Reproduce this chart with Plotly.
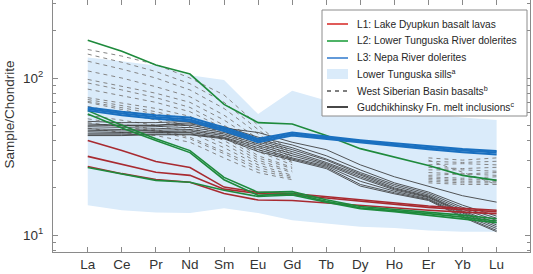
import plotly.graph_objects as go

elements = ["La", "Ce", "Pr", "Nd", "Sm", "Eu", "Gd", "Tb", "Dy", "Ho", "Er", "Yb", "Lu"]

# Lower Tunguska sills envelope
sills_upper = [135, 128, 120, 104, 97, 59, 83, 72, 66, 63, 59, 56, 54]
sills_lower = [15.5, 14.4, 13.9, 13.8, 14.8, 13.8, 12.4, 11.9, 11.3, 11.1, 10.7, 10.5, 10.5]

# L1: Lake Dyupkun basalt lavas
l1_a = [40, 34.5, 29.4, 26.9, 20.2, 18.7, 18.4, 17.6, 16.8, 16.0, 15.3, 14.8, 14.4]
l1_b = [31.7, 28.1, 25.1, 24.0, 19.6, 18.4, 18.0, 17.2, 16.4, 15.7, 15.0, 14.5, 14.1]
l1_c = [27.3, 24.6, 22.6, 21.7, 18.4, 16.7, 16.6, 16.0, 15.4, 14.9, 14.4, 14.0, 13.7]

# L2: Lower Tunguska River dolerites
l2_a = [174, 148, 121, 106, 68, 52, 51, 43, 35.5, 31.2, 27.7, 24.0, 22.3]
l2_b = [62, 50, 41, 34.5, 23.3, 18.7, 18.9, 16.8, 15.2, 14.6, 14.0, 13.4, 12.7]
l2_c = [59, 48, 40, 33.5, 22.5, 17.9, 18.4, 16.4, 14.9, 14.3, 13.7, 13.0, 12.3]
l2_d = [26.9, 24.5, 22.3, 21.7, 19.3, 17.6, 18.0, 16.2, 14.7, 14.1, 13.4, 12.6, 12.0]

# L3: Nepa River dolerites
l3_a = [65, 61, 58, 56, 48.5, 41, 45, 42.5, 40.2, 38.4, 36.8, 35.3, 34.3]
l3_b = [63.5, 59.5, 56.5, 54.5, 47.2, 40, 44, 41.7, 39.4, 37.6, 36, 34.5, 33.5]
l3_c = [62, 58, 55, 53, 46, 39, 43, 40.9, 38.6, 36.8, 35.2, 33.7, 32.6]

# West Siberian Basin basalts (no Tb, Dy, Ho data)
wsb_1 = [152, 138, 122, 100, 78, 50, 33, None, None, None, 31, 30, 31]
wsb_2 = [142, 126, 110, 92, 70, 47, 32, None, None, None, 29.5, 29, 29.5]
wsb_3 = [128, 114, 100, 84, 64, 44, 31.5, None, None, None, 28, 28.5, 28]
wsb_4 = [111, 100, 88, 76, 58, 41, 31, None, None, None, 27, 26.5, 27]
wsb_5 = [98, 89, 80, 70, 54, 39, 30, None, None, None, 26, 26, 25.5]
wsb_6 = [93, 84, 75, 65, 50, 37, 29.5, None, None, None, 25, 24.5, 25]
wsb_7 = [85, 77, 70, 61, 48, 35, 29, None, None, None, 24, 24.5, 24]
wsb_8 = [75, 69, 64, 57, 46, 34, 28, None, None, None, 23.5, 23, 23.5]
wsb_9 = [73, 67, 61, 54, 44, 32, 27, None, None, None, 23, 22.5, 22.5]
wsb_10 = [71, 65, 59, 52, 42, 31, 26.5, None, None, None, 22.5, 22, 22]
wsb_11 = [70, 63, 56, 49, 40, 30, 25.5, None, None, None, 22, 21.5, 21.5]
wsb_12 = [66, 60, 54, 47, 38, 29, 25, None, None, None, 21.5, 21, 21]
wsb_13 = [58, 54, 50, 45, 36, 28, 24, None, None, None, 30, 25, 21]
wsb_14 = [55, 51, 47, 42, 34, 27, 23.5, None, None, None, None, None, None]
wsb_15 = [52, 49, 46, 41, 33, 26, 23, None, None, None, None, None, None]
wsb_16 = [48, 45, 43, 39, 31, 25, 22.5, None, None, None, None, None, None]

# Gudchikhinsky Fn. melt inclusions
gmi_1 = [50, 50, 50, 52, 48, 45, 39, 35, 28, 23.5, 20.5, 17.8, 16.2]
gmi_2 = [53, 52, 52, 53, 49, 42, 37.5, 32, 26, 21.5, 18.8, 15.5, 13.2]
gmi_3 = [51, 50, 50, 51, 47.5, 41, 36, 30.5, 25, 21, 18.4, 15, 12.8]
gmi_4 = [49, 48.5, 49, 50, 46, 40, 35, 30, 24.5, 20.5, 18, 14.6, 12.4]
gmi_5 = [47.5, 47, 47.5, 48.5, 45, 39, 34, 29, 24, 20, 17.7, 14.2, 12]
gmi_6 = [46.5, 46, 46.5, 47, 44, 38, 33, 28.5, 23.5, 19.7, 17.5, 14, 11.6]
gmi_7 = [45.5, 45, 45.5, 46, 43, 37, 32, 28, 23, 19.4, 17.3, 13.8, 11.3]
gmi_8 = [44.5, 44.5, 45, 45, 42, 36, 31, 27.5, 22, 19, 17, 13.5, 11]
gmi_9 = [43.5, 43.5, 44, 44, 41.5, 35, 30.5, 27, 21, 18.6, 16.8, 13.2, 10.7]
gmi_10 = [43, 43, 43.5, 43.5, 41, 34, 30, 26.5, 20.5, 18.3, 16.6, 13, 10.5]

y_tickvals = [10, 100]
y_ticktext = ["10<sup>1</sup>", "10<sup>2</sup>"]

legend_labels = [
    "L1: Lake Dyupkun basalt lavas",
    "L2: Lower Tunguska River dolerites",
    "L3: Nepa River dolerites",
    "Lower Tunguska sills<sup>a</sup>",
    "West Siberian Basin basalts<sup>b</sup>",
    "Gudchikhinsky Fn. melt inclusions<sup>c</sup>",
]

RED, GREEN, BLUE = "#a82a30", "#1e8a3c", "#1a70c0"
RED_L, GREEN_L, BLUE_L = "#d8322f", "#23a040", "#3a80d0"
FILL = "#daebfa"
FONT = "Liberation Sans, Arial, sans-serif"

fig = go.Figure()

# sills envelope
fig.add_trace(go.Scatter(x=elements, y=sills_lower, mode="lines", line=dict(width=0),
                         showlegend=False, hoverinfo="skip"))
fig.add_trace(go.Scatter(x=elements, y=sills_upper, mode="lines", line=dict(width=0),
                         fill="tonexty", fillcolor=FILL, showlegend=False, hoverinfo="skip"))

for s in [wsb_1, wsb_2, wsb_3, wsb_4, wsb_5, wsb_6, wsb_7, wsb_8, wsb_9, wsb_10,
          wsb_11, wsb_12, wsb_13, wsb_14, wsb_15, wsb_16]:
    fig.add_trace(go.Scatter(x=elements, y=s, mode="lines", connectgaps=False,
                             line=dict(color="#858585", width=1, dash="4px,4px"),
                             showlegend=False))

for s in [gmi_1, gmi_2, gmi_3, gmi_4, gmi_5, gmi_6, gmi_7, gmi_8, gmi_9, gmi_10]:
    fig.add_trace(go.Scatter(x=elements, y=s, mode="lines",
                             line=dict(color="#3a3a3a", width=1), opacity=0.85,
                             showlegend=False))

for s in [l1_a, l1_b, l1_c]:
    fig.add_trace(go.Scatter(x=elements, y=s, mode="lines",
                             line=dict(color=RED, width=1.6), showlegend=False))
for s in [l2_a, l2_b, l2_c, l2_d]:
    fig.add_trace(go.Scatter(x=elements, y=s, mode="lines",
                             line=dict(color=GREEN, width=1.6), showlegend=False))
for s in [l3_a, l3_b, l3_c]:
    fig.add_trace(go.Scatter(x=elements, y=s, mode="lines",
                             line=dict(color=BLUE, width=2), showlegend=False))

# plot-area geometry in pixels (for manual legend)
L, R_, T, B = 53, 530, 0, 252
W, H = R_ - L, B - T
def px(x):
    return (x - L) / W
def py(y):
    return (B - y) / H

shapes = [dict(type="rect", xref="paper", yref="paper", x0=px(322), x1=px(527),
               y0=py(116), y1=py(10), line=dict(color="#8c8c8c", width=1),
               fillcolor="white", layer="above")]
rows = [24, 41, 58, 74, 91, 107]
samples = [
    dict(color=RED_L, dash="solid"),
    dict(color=GREEN_L, dash="solid"),
    dict(color=BLUE_L, dash="solid"),
    None,
    dict(color="#555555", dash="4px,4px"),
    dict(color="#1a1a1a", dash="solid"),
]
annotations = []
for yy, smp, lab in zip(rows, samples, legend_labels):
    if smp is None:
        shapes.append(dict(type="rect", xref="paper", yref="paper", x0=px(327), x1=px(348),
                           y0=py(yy + 5), y1=py(yy - 5), line=dict(width=0),
                           fillcolor=FILL, layer="above"))
    else:
        shapes.append(dict(type="line", xref="paper", yref="paper", x0=px(327), x1=px(348),
                           y0=py(yy), y1=py(yy), layer="above",
                           line=dict(color=smp["color"], width=1.6, dash=smp["dash"])))
    annotations.append(dict(text=lab, xref="paper", yref="paper", x=px(355), y=py(yy),
                            xanchor="left", yanchor="middle", showarrow=False,
                            font=dict(family=FONT, size=10.2, color="#262626")))

annotations.append(dict(text="Sample/Chondrite", xref="paper", yref="paper",
                        x=px(8.5), y=py(115), textangle=-90, showarrow=False,
                        xanchor="center", yanchor="middle",
                        font=dict(family=FONT, size=13.5, color="#333333")))

axis_common = dict(showline=True, linecolor="#8a8a8a", linewidth=1, mirror="ticks",
                   ticks="inside", tickcolor="#8a8a8a", showgrid=False, zeroline=False,
                   automargin=False,
                   tickfont=dict(family=FONT, size=13.5, color="#333333"))

fig.update_layout(
    width=533, height=274,
    margin=dict(l=L, r=533 - R_, t=T, b=274 - B, pad=0),
    paper_bgcolor="white", plot_bgcolor="white",
    showlegend=False,
    shapes=shapes, annotations=annotations,
    xaxis=dict(**axis_common, type="category", range=[-1.02, 12.98], ticklen=5,
               ticklabelstandoff=0),
    yaxis=dict(**axis_common, type="log", range=[0.892, 2.497], ticklen=5,
               tickvals=y_tickvals, ticktext=y_ticktext, ticklabelstandoff=6,
               minor=dict(ticks="inside", ticklen=3, tickcolor="#8a8a8a",
                          tickvals=[8, 9, 20, 30, 40, 50, 60, 70, 80, 90, 200, 300],
                          showgrid=False)),
)

fig.write_html("out.html", config={"displayModeBar": False},
               post_script="document.body.style.margin='0';document.body.style.padding='0';")
